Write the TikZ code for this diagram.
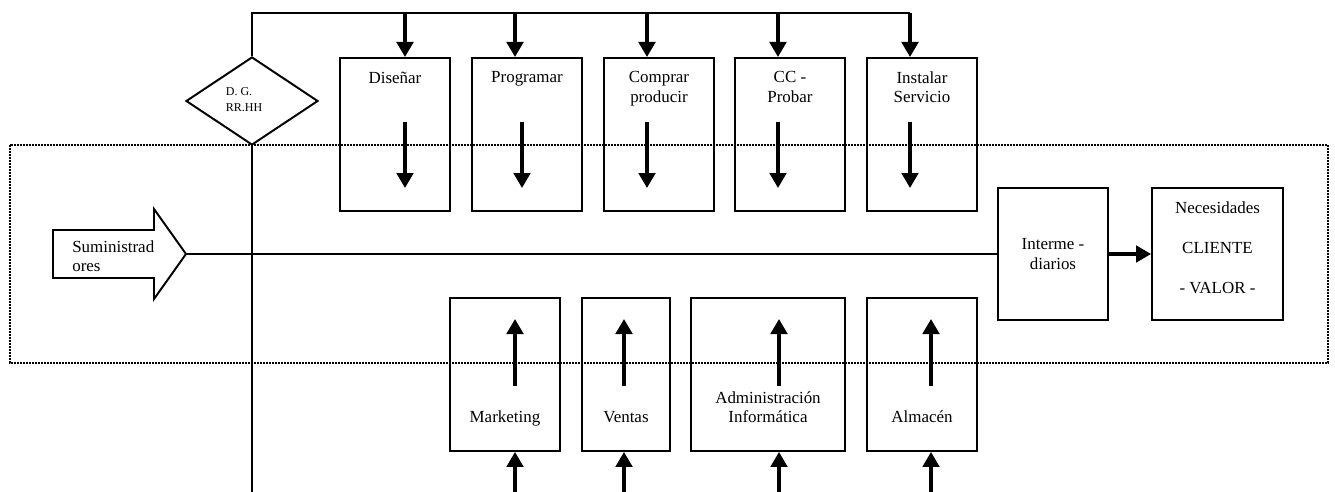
\documentclass[tikz,border=0pt]{standalone}
\usepackage{fontspec}
\setmainfont{Liberation Serif}
\usetikzlibrary{arrows.meta,shapes.geometric}
\newcommand{\pxu}{0.6667pt}

\begin{document}
\begin{tikzpicture}[x=0.6667pt,y=-0.6667pt,
  font=\fontsize{11.3}{13}\selectfont,
  linea/.style={line width=1.3pt},
  caja/.style={draw,linea,rectangle,inner sep=0pt,minimum width=#1*\pxu,minimum height=153*\pxu,anchor=north west},
  flecha/.style={line width=2.3pt,-{Triangle[width=11pt,length=10pt]}},
  arriba/.style={anchor=north,inner sep=0pt,yshift=-9.6pt,align=center},
  abajo/.style={anchor=south,inner sep=0pt,yshift=16.8pt,text depth=2.5pt,align=center}]
\useasboundingbox (0,0) rectangle (1335,492);

\draw[line width=1.6pt,dash pattern=on 1.35pt off 0.65pt] (10,145) rectangle (1328,363);

\node[draw,linea,diamond,minimum width=132*\pxu,minimum height=88*\pxu,inner sep=0pt,
  label={[align=left,font=\fontsize{8}{10.4}\selectfont,xshift=-5.3pt,yshift=1pt]center:D. G.\\RR.HH}] (dg) at (252,101) {};
\coordinate (tope) at (910,13);
\coordinate (fondo) at (252,492);
\draw[linea] (dg.north) |- (tope);
\draw[linea] (dg.south) -- (fondo);

\foreach \n/\x/\txt in {dis/339/Diseñar, prog/471/Programar, comp/603/{Comprar\\producir},
  cc/734/{CC -\\Probar}, inst/866/{Instalar\\Servicio}}
  \node[caja=110,label={[arriba]north:\txt}] (\n) at (\x,57) {};

\foreach \n/\xa/\xb in {dis/405/405, prog/515/522, comp/647/647, cc/778/778, inst/910/910}{
  \coordinate (\n-a) at (\xa,13);
  \draw[flecha] (\n-a) -- (\n-a |- \n.north);
  \coordinate (\n-b) at (\xb,122);
  \coordinate (\n-c) at (\xb,188);
  \draw[flecha] (\n-b) -- (\n-c);
}

\foreach \n/\x/\w/\txt in {mark/449/110/Marketing, vent/581/88/Ventas,
  adm/690/154/{Administración\\Informática}, alm/866/110/Almacén}
  \node[caja=\w,label={[abajo]south:\txt}] (\n) at (\x,297) {};

\foreach \n/\x in {mark/515, vent/624, adm/779, alm/931}{
  \coordinate (\n-a) at (\x,492);
  \draw[flecha] (\n-a) -- (\n-a |- \n.south);
  \coordinate (\n-b) at (\x,386);
  \coordinate (\n-c) at (\x,319);
  \draw[flecha] (\n-b) -- (\n-c);
}

\draw[linea] (53,230) -- (154,230) -- (154,209) -- (186,254) -- (154,299) -- (154,278) -- (53,278) -- cycle;
\node[anchor=west,align=left] (sum) at (67,256) {Suministrad\\ores};
\coordinate (punta) at (186,254);

\node[draw,linea,minimum width=110*\pxu,minimum height=132*\pxu,align=center] (interm) at (1053,254) {Interme -\\diarios};
\node[draw,linea,minimum width=131*\pxu,minimum height=132*\pxu,
  label={[arriba,font=\fontsize{11.3}{26.7}\selectfont]north:Necesidades\\CLIENTE\\- VALOR -}] (neces) at (1217.5,254) {};

\draw[linea] (punta) -- (interm);
\draw[flecha] (interm) -- (neces);
\end{tikzpicture}
\end{document}
